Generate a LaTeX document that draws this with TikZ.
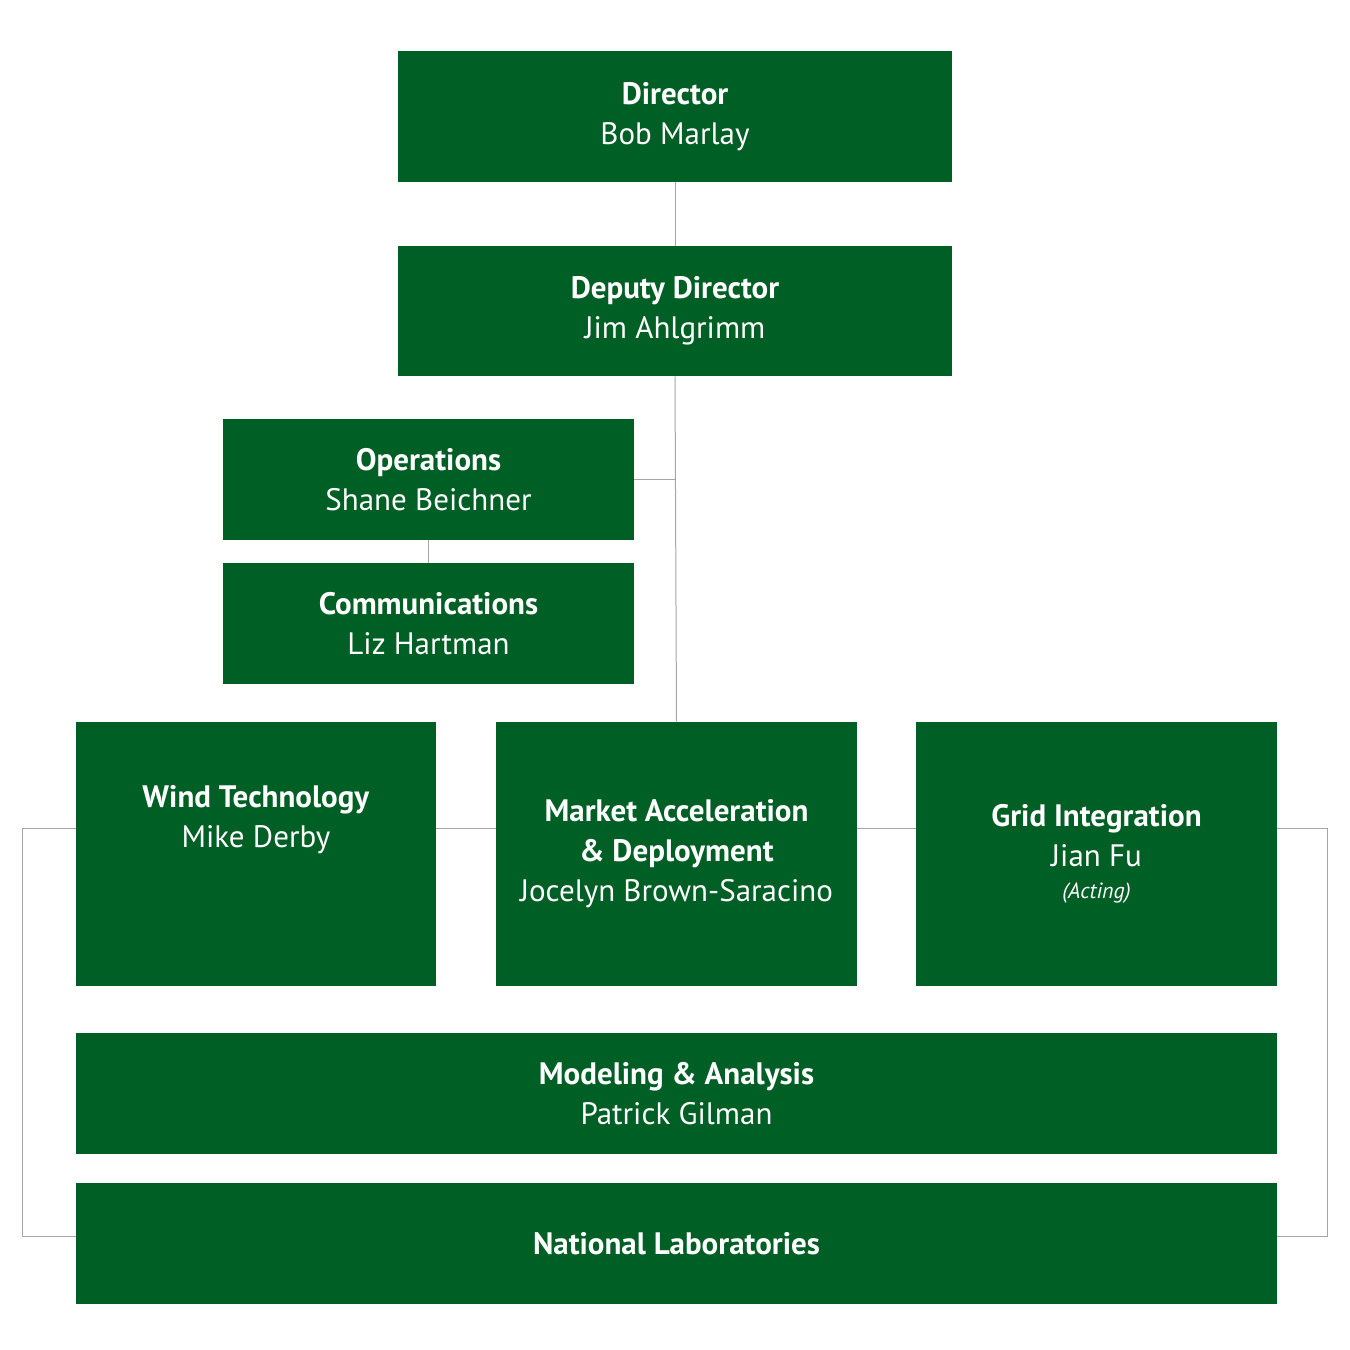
\documentclass[tikz,border=0pt]{standalone}
\usepackage{fontspec}
\setmainfont{PT Sans}
\usetikzlibrary{calc}
\definecolor{orggreen}{HTML}{005F24}
\tikzset{
    unit/.style={fill=orggreen, text=white, align=center, inner sep=0pt,
        font=\fontsize{15.5pt}{20pt}\selectfont},
    link/.style={draw=gray!70, line width=0.5pt}
}
\begin{document}
\begin{tikzpicture}[x=0.5pt, y=-0.5pt]
    \useasboundingbox (0,0) rectangle (1350,1350);

    \node[unit, minimum width=277pt, minimum height=65.5pt] (dir) at (675,116.5)
        {\textbf{Director}\\Bob Marlay};
    \node[unit, minimum width=277pt, minimum height=65pt] (dep) at (675,311)
        {\textbf{Deputy Director}\\Jim Ahlgrimm};
    \node[unit, minimum width=205.5pt, minimum height=60.5pt] (ops) at (428.5,479.5)
        {\textbf{Operations}\\Shane Beichner};
    \node[unit, minimum width=205.5pt, minimum height=60.5pt] (comm) at (428.5,623.5)
        {\textbf{Communications}\\Liz Hartman};

    \node[unit, minimum width=180pt, minimum height=132pt] (wind) at (256,854)
        {\textbf{Wind Technology}\\Mike Derby\\[18pt]};
    \node[unit, minimum width=180.5pt, minimum height=132pt] (market) at (676.5,854)
        {\textbf{Market Acceleration}\\\textbf{\& Deployment}\\Jocelyn Brown-Saracino};
    \node[unit, minimum width=180.5pt, minimum height=132pt] (grid) at (1096.5,854)
        {\textbf{Grid Integration}\\Jian Fu\\[-4pt]{\itshape\fontsize{11pt}{13pt}\selectfont (Acting)}};

    \node[unit, minimum width=600.5pt, minimum height=60.5pt] (model) at (676.5,1093.5)
        {\textbf{Modeling \& Analysis}\\Patrick Gilman};
    \node[unit, minimum width=600.5pt, minimum height=60.5pt] (labs) at (676.5,1243.5)
        {\textbf{National Laboratories}};

    % connectors
    \coordinate (lt) at (22,828);
    \coordinate (lb) at (22,1236);
    \coordinate (rt) at (1327,828);
    \coordinate (rb) at (1327,1236);

    \draw[link] (dir.south) -- (dep.north);
    \draw[link] (dep.south) -- (market.north);
    \draw[link] (ops.east) -- (ops.east -| dep.south);
    \draw[link] (ops.south) -- (comm.north);
    \draw[link] (wind.west |- lt) -- (lt) -- (lb) -- (labs.west |- lb);
    \draw[link] (wind.east |- lt) -- (market.west |- lt);
    \draw[link] (market.east |- lt) -- (grid.west |- lt);
    \draw[link] (grid.east |- rt) -- (rt) -- (rb) -- (labs.east |- rb);
\end{tikzpicture}
\end{document}
